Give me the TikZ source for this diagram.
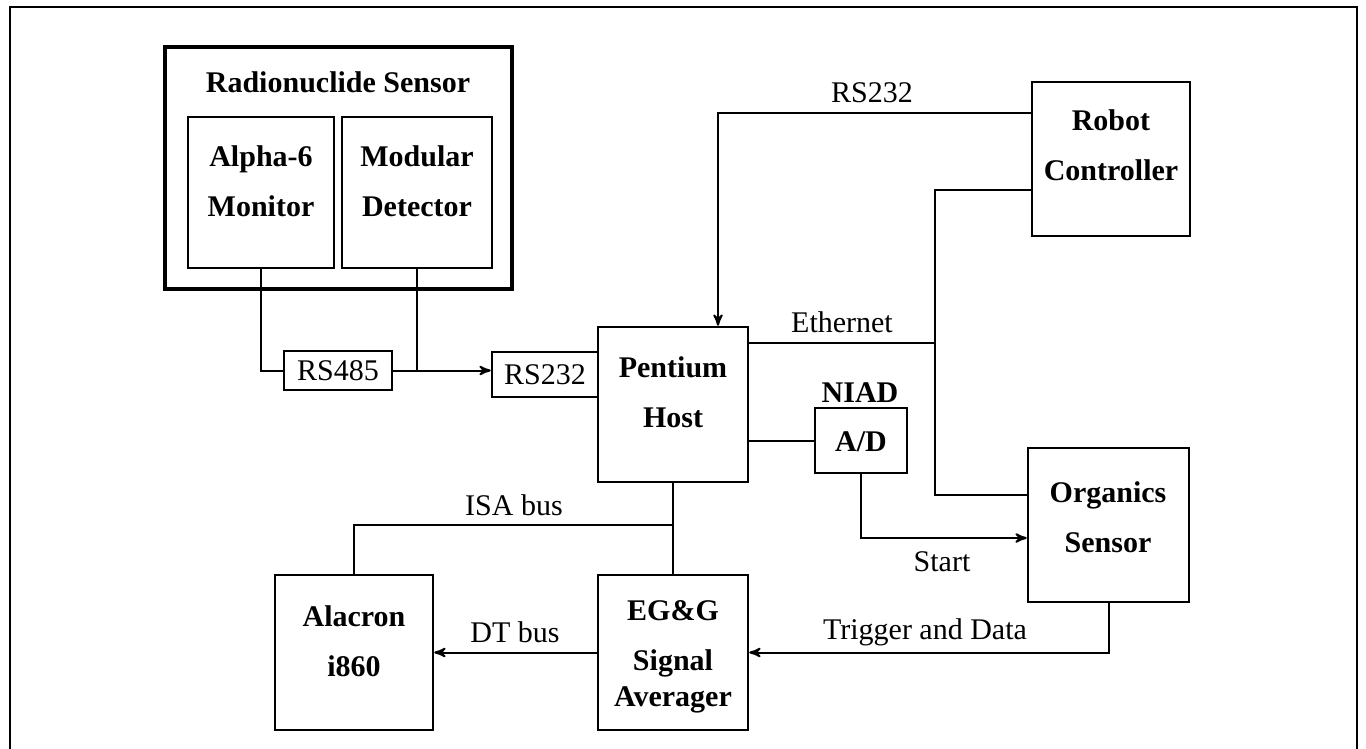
\documentclass[tikz,border=0pt]{standalone}
\usepackage{fontspec}
\setmainfont{Liberation Serif}
\usetikzlibrary{arrows,fit}

\begin{document}
\begin{tikzpicture}[x=0.5pt, y=-0.5pt, >=stealth', line width=1pt,
	box/.style = {draw, line width=1.3pt, inner sep=0pt},
	boxtext/.style = {font=\bfseries\fontsize{15}{25}\selectfont, align=center},
	linetext/.style = {font=\fontsize{15}{18}\selectfont}]
	\useasboundingbox (0,0) rectangle (1366,749);
	\draw[line width=1.1pt] (10,760) -- (10,7) -- (1357,7) -- (1357,760);
	
	% boxes
	\node (radio) [box, line width=2pt, fit={(165,47) (512,289)}] {};
	\node (alpha) [box, fit={(188,117) (334,268)}] {};
	\node (modular) [box, fit={(342,117) (492,268)}] {};
	\node (rs485) [box, fit={(284,351) (392,390)}] {};
	\node (rs232) [box, fit={(492,352) (598,397)}] {};
	\node (pentium) [box, fit={(598,327) (748,482)}] {};
	\node (ad) [box, fit={(815,408) (907,473)}] {};
	\node (robot) [box, fit={(1032,82) (1190,236)}] {};
	\node (organics) [box, fit={(1028,448) (1189,602)}] {};
	\node (alacron) [box, fit={(275,575) (433,730)}] {};
	\node (egg) [box, fit={(598,575) (748,730)}] {};
	
	\node (radiotext) at (338, 82) [boxtext] {Radionuclide Sensor};
	\node (alphatext) at (261, 181) [boxtext] {Alpha-6\\Monitor};
	\node (modulartext) at (417, 181) [boxtext] {Modular\\Detector};
	\node (rs485text) at (338, 371) [linetext] {RS485};
	\node (rs232text) at (545, 375) [linetext] {RS232};
	\node (pentiumtext) at (673, 392) [boxtext] {Pentium\\Host};
	\node (niadtext) at (860, 393) [boxtext] {NIAD};
	\node (adtext) at (861, 442) [boxtext] {A/D};
	\node (robottext) at (1111, 145) [boxtext] {Robot\\Controller};
	\node (organicstext) at (1108, 517) [boxtext] {Organics\\Sensor};
	\node (alacrontext) at (354, 641) [boxtext] {Alacron\\i860};
	\node (eggtext) at (673, 657) [boxtext] {EG\&G\\Signal\\[-7pt]Averager};
	
	% bends
	\coordinate (rsbend) at (718,113);
	\coordinate (ethtop) at (935,190);
	\coordinate (ethmid) at (935,343);
	\coordinate (ethbot) at (935,495);
	\coordinate (startbend) at (861,538);
	\coordinate (isabend) at (673,525);
	
	% connectors
	\draw (alpha.south) |- (rs485.west);
	\draw (modular.south) -- (modular.south |- rs485.east);
	\draw[->] (rs485.east) -- (rs485.east -| rs232.west);
	
	\draw[->] (robot.west |- rsbend) -- (rsbend) -- (rsbend |- pentium.north);
	\node (rslabel) at (872, 93) [linetext] {RS232};
	
	\draw (robot.west |- ethtop) -- (ethtop) -- (ethbot) -- (ethbot -| organics.west);
	\draw (pentium.east |- ethmid) -- (ethmid);
	\node (ethlabel) at (842, 322) [linetext] {Ethernet};
	
	\draw (pentium.east |- ad.west) -- (ad.west);
	\draw[->] (ad.south) -- (startbend) -- (startbend -| organics.west);
	\node (startlabel) at (942, 562) [linetext] {Start};
	
	\draw (pentium.south) -- (egg.north);
	\draw (isabend) -| (alacron.north);
	\node (isalabel) at (514, 505) [linetext] {ISA bus};
	
	\draw[->] (egg.west) -- (alacron.east);
	\node (dtlabel) at (515, 632) [linetext] {DT bus};
	
	\draw[->] (organics.south) |- (egg.east);
	\node (triglabel) at (925, 632) [linetext] {Trigger and Data};
	
\end{tikzpicture}
\end{document}
